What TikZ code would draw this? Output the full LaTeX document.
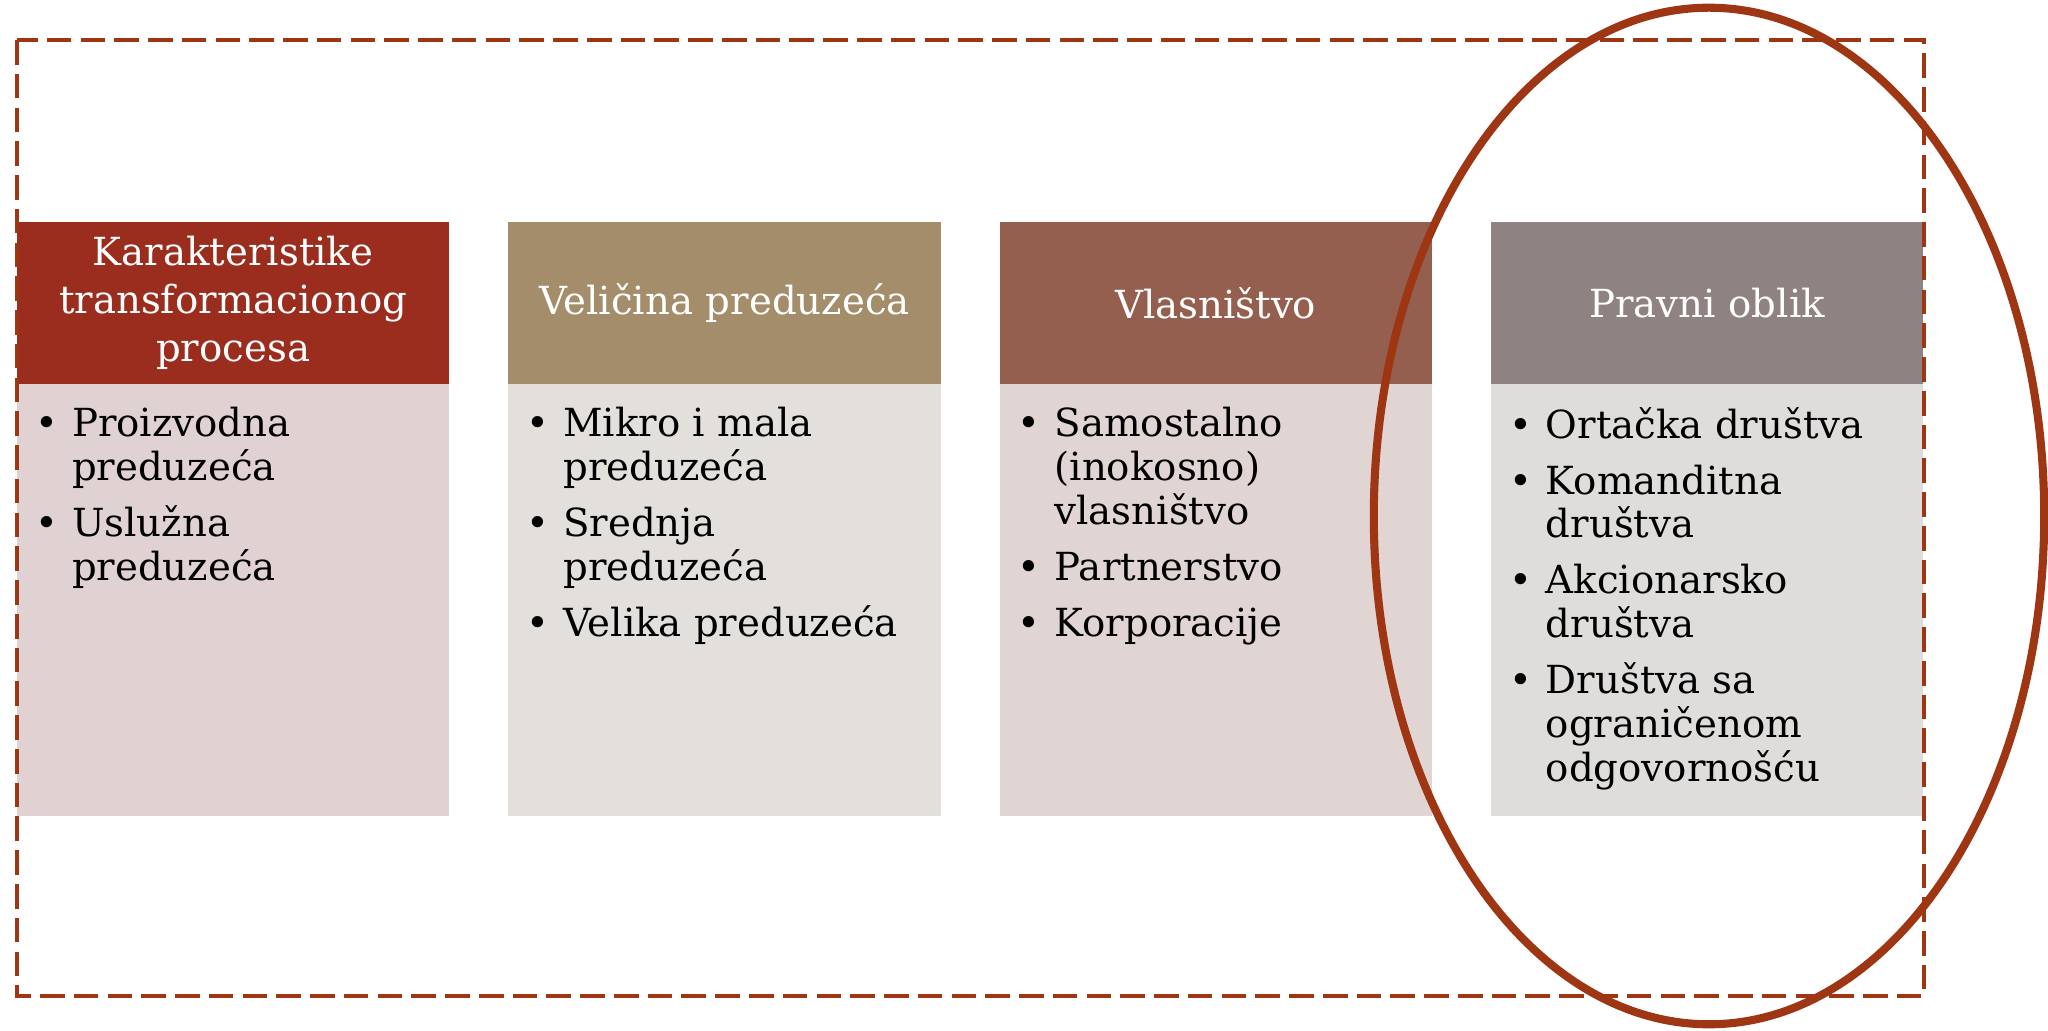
\documentclass[tikz,border=0pt]{standalone}
\usepackage{fontspec}
\setmainfont{DejaVu Serif}
\usepackage{enumitem}
\usetikzlibrary{positioning}
\definecolor{okvir}{HTML}{9E3513}
\definecolor{zag1}{HTML}{9B2D1F}
\definecolor{zag2}{HTML}{A38D6A}
\definecolor{zag3}{HTML}{955F50}
\definecolor{zag4}{HTML}{8F8382}
\definecolor{telo1}{HTML}{E0D2D2}
\definecolor{telo2}{HTML}{E3DFDA}
\definecolor{telo3}{HTML}{E0D5D3}
\definecolor{telo4}{HTML}{DEDDDC}
\setlist[itemize]{label=\textbullet, leftmargin=0.55cm, labelsep=0.14cm, itemsep=0.12cm, parsep=0pt, topsep=0pt, partopsep=0pt}
\newcommand{\stavke}[1]{\begin{minipage}[t][4.32cm][t]{4.32cm}\raggedright\vspace*{0.23cm}
  \begin{itemize}#1\end{itemize}\end{minipage}}
\begin{document}
\begin{tikzpicture}[x=0.01cm,y=-0.01cm,
  zaglavlje/.style={minimum width=4.32cm, minimum height=1.62cm, inner sep=0pt, outer sep=0pt,
    text width=4.1cm, align=center, text=white, font=\fontsize{11}{13.6}\selectfont},
  telo/.style={minimum width=4.32cm, minimum height=4.32cm, inner sep=0pt, outer sep=0pt,
    font=\fontsize{11}{12.5}\selectfont}]
	\useasboundingbox (0,0) rectangle (2048,1031);
	% zaglavlja
	\node[zaglavlje, fill=zag1, anchor=north west] (h1) at (17,222) {Karakteristike\\transformacionog\\procesa};
	\node[zaglavlje, fill=zag2, right=0.59cm of h1] (h2) {Veličina preduzeća};
	\node[zaglavlje, fill=zag3, right=0.59cm of h2] (h3) {Vlasništvo};
	\node[zaglavlje, fill=zag4, right=0.59cm of h3] (h4) {Pravni oblik};
	% tela sa stavkama
	\node[telo, fill=telo1, below=0pt of h1] (b1) {\stavke{\item Proizvodna\\preduzeća \item Uslužna\\preduzeća}};
	\node[telo, fill=telo2, below=0pt of h2] (b2) {\stavke{\item Mikro i mala\\preduzeća \item Srednja\\preduzeća \item Velika preduzeća}};
	\node[telo, fill=telo3, below=0pt of h3] (b3) {\stavke{\item Samostalno\\(inokosno)\\vlasništvo \item Partnerstvo \item Korporacije}};
	\node[telo, fill=telo4, below=0pt of h4] (b4) {\stavke{\item Ortačka društva \item Komanditna\\društva \item Akcionarsko\\društva \item Društva sa\\ograničenom\\odgovornošću}};
	% okvir i elipsa
	\draw[okvir, line width=1pt, dash pattern=on 7pt off 2.6pt] (17,40) rectangle (1924,996);
	\draw[okvir, line width=2.3pt] (1709,516) ellipse [x radius=3.35cm, y radius=5.08cm];
\end{tikzpicture}
\end{document}
